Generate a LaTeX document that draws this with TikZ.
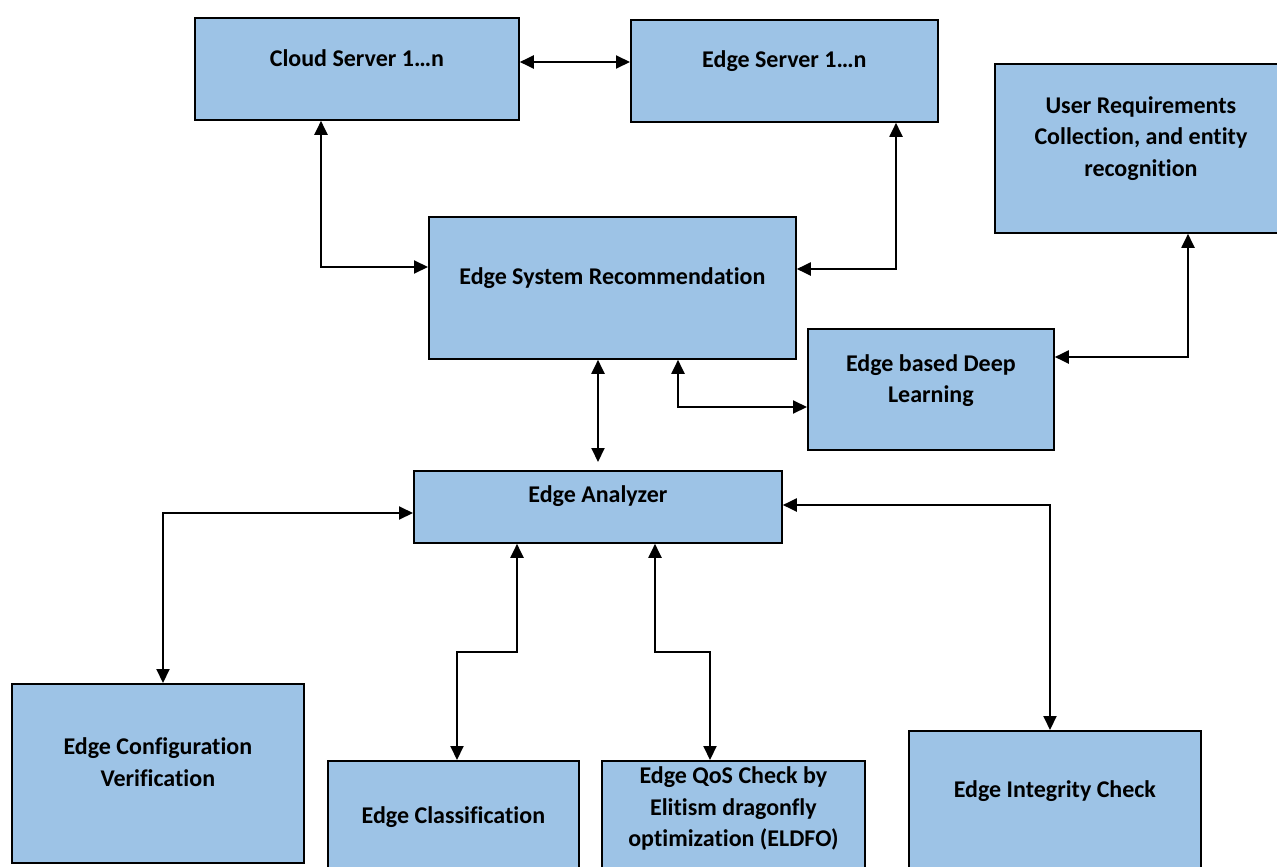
\documentclass[tikz,border=0pt]{standalone}
\usepackage{fontspec}
\setmainfont{Carlito}[Ligatures=NoCommon]
\usetikzlibrary{positioning}
\usetikzlibrary{arrows.meta}
\usepackage{xcolor}
\definecolor{boxblue}{HTML}{9DC3E6}

\begin{document}
\begin{tikzpicture}[
		x=1pt, y=-1pt,
		% Style definitions for the blocks and links
		block/.style={draw, line width=1.8pt, fill=boxblue, anchor=north west, inner sep=0pt},
		txt/.style={font=\bfseries\fontsize{24}{31.5}\selectfont, align=center},
		arrow/.style={{Triangle[length=14pt,width=13pt]}-{Triangle[length=14pt,width=13pt]}, line width=2pt},
		]
		\useasboundingbox (0,0) rectangle (1277,867);

		% === Top row: servers ===
		\node[block, minimum width=324pt, minimum height=102pt,
			label={[txt, yshift=11pt]center:Cloud Server 1…n}] (cloud) at (194,17) {};
		\node[block, minimum width=307pt, minimum height=102pt,
			label={[txt, yshift=10pt]center:Edge Server 1…n}] (eserver) at (630,19) {};
		\node[block, minimum width=292pt, minimum height=169pt,
			label={[txt, yshift=10pt]center:User Requirements\\Collection, and entity\\recognition}] (ureq) at (994,63) {};

		% === Middle: recommendation and learning ===
		\node[block, minimum width=367pt, minimum height=142pt,
			label={[txt, yshift=10pt]center:Edge System Recommendation}] (esr) at (428,216) {};
		\node[block, minimum width=246pt, minimum height=121pt,
			label={[txt, yshift=9pt]center:Edge based Deep\\Learning}] (dl) at (807,328) {};

		% === Analyzer ===
		\node[block, minimum width=368pt, minimum height=72pt,
			label={[txt, yshift=11pt]center:Edge Analyzer}] (ea) at (413,470) {};

		% === Bottom row: checks (cut by the page edge) ===
		\node[block, minimum width=292pt, minimum height=179pt,
			label={[txt, yshift=11pt]center:Edge Configuration\\Verification}] (conf) at (11,683) {};
		\node[block, minimum width=251pt, minimum height=130pt,
			label={[txt, yshift=9pt]center:Edge Classification}] (cls) at (327,760) {};
		\node[block, minimum width=263pt, minimum height=130pt,
			label={[txt, yshift=17pt]center:Edge QoS Check by\\Elitism dragonfly\\optimization (ELDFO)}] (qos) at (601,760) {};
		\node[block, minimum width=292pt, minimum height=160pt,
			label={[txt, yshift=20pt]center:Edge Integrity Check}] (integ) at (908,730) {};

		% === Arrows: elbows through fixed x / y values ===
		\draw[arrow] (cloud.east |- 0,62) -- (eserver.west |- 0,62);
		\draw[arrow] (321,0 |- cloud.south) |- (esr.west |- 0,267);
		\draw[arrow] (896,0 |- eserver.south) |- (esr.east |- 0,269);
		\draw[arrow] (1188,0 |- ureq.south) |- (dl.east |- 0,357);
		\draw[arrow, shorten >=8pt] (598,0 |- esr.south) -- (598,0 |- ea.north);
		\draw[arrow] (678,0 |- esr.south) |- (dl.west |- 0,407);

		\draw[arrow] (ea.west |- 0,513) -| (163,0 |- conf.north);
		\draw[arrow] (517,0 |- ea.south) -- (517,652) -| (457,0 |- cls.north);
		\draw[arrow] (655,0 |- ea.south) -- (655,652) -| (710,0 |- qos.north);
		\draw[arrow] (ea.east |- 0,505) -| (1050,0 |- integ.north);

	\end{tikzpicture}
\end{document}
